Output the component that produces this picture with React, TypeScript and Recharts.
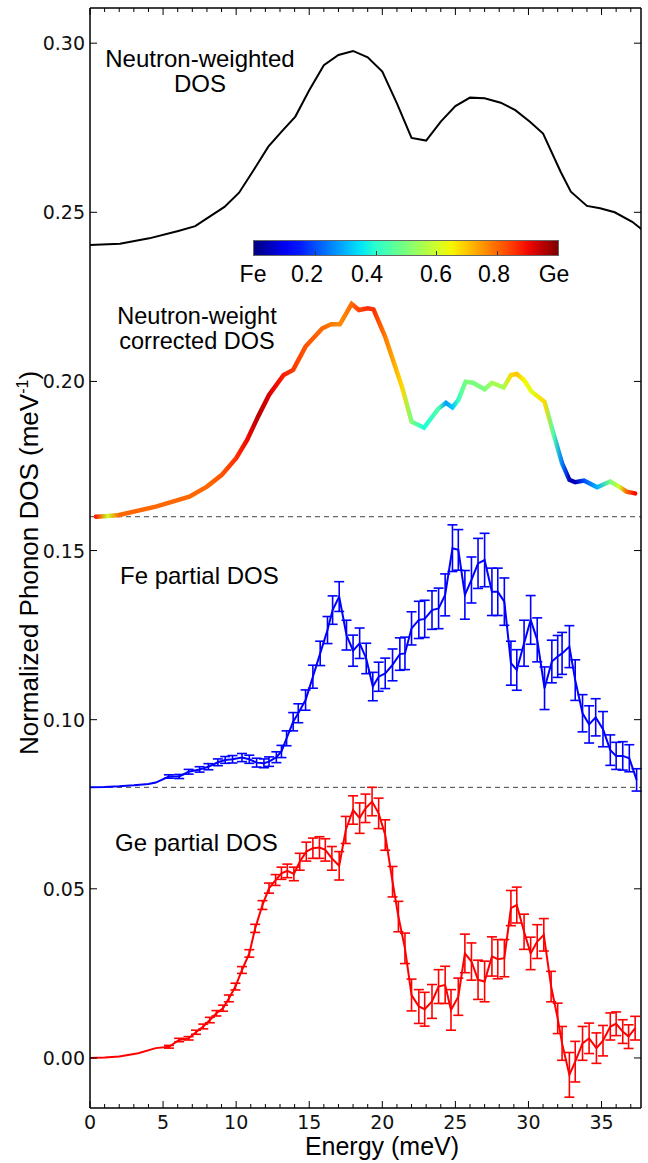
import React from "react";
import { LineChart, Line, XAxis, YAxis, ErrorBar, ReferenceLine } from "recharts";

// neutron-weighted DOS (black, top)
const nwEnergy = [0, 2.05, 4.05, 6.04, 7.2, 8.0, 9.2, 10.2, 11.2, 12.2, 13.2, 14.05, 15.0, 16.0, 17.0, 18.0, 19.0, 20.0, 21.0, 22.0, 23.0, 24.0, 25.0, 26.0, 27.0, 28.1, 29.1, 30.1, 31.0, 32.2, 32.9, 34.0, 34.9, 35.9, 37.1, 37.8];
const nwDos = [0.2403, 0.2407, 0.2423, 0.2445, 0.2459, 0.2482, 0.2516, 0.2558, 0.2625, 0.2694, 0.2743, 0.2783, 0.2861, 0.2935, 0.2965, 0.2977, 0.2958, 0.2916, 0.2822, 0.272, 0.2712, 0.2768, 0.2814, 0.2839, 0.2837, 0.2824, 0.2802, 0.2768, 0.2733, 0.262, 0.2561, 0.2519, 0.2512, 0.25, 0.2472, 0.2448];

// neutron-weight corrected DOS, coloured by Fe/Ge fraction
const corrEnergy = [0.4, 1.2, 2.0, 4.5, 6.8, 8.0, 9.0, 10.0, 10.75, 11.5, 12.25, 13.25, 13.9, 14.75, 15.9, 16.5, 17.1, 17.9, 18.4, 19.0, 19.4, 20.2, 21.35, 22.0, 22.85, 23.85, 24.35, 24.8, 25.2, 25.7, 26.2, 27.0, 27.5, 28.3, 28.8, 29.2, 29.7, 30.2, 31.1, 31.7, 32.3, 32.8, 33.2, 33.8, 34.7, 35.6, 36.2, 36.7, 37.3];
const corrDos = [0.16, 0.1602, 0.1605, 0.163, 0.1659, 0.1689, 0.1723, 0.1773, 0.1827, 0.1896, 0.196, 0.2019, 0.2034, 0.2103, 0.2157, 0.2169, 0.2169, 0.2229, 0.2211, 0.2216, 0.2213, 0.2132, 0.1984, 0.1881, 0.1863, 0.192, 0.1937, 0.1923, 0.1945, 0.1999, 0.1996, 0.1977, 0.1996, 0.1982, 0.2019, 0.2022, 0.2004, 0.197, 0.194, 0.1847, 0.1758, 0.1709, 0.1702, 0.1707, 0.1687, 0.1704, 0.1689, 0.1674, 0.1669];
const corrFrac = [0.88, 0.6, 0.8, 0.8, 0.8, 0.8, 0.82, 0.86, 0.9, 0.95, 0.92, 0.88, 0.85, 0.82, 0.8, 0.78, 0.76, 0.8, 0.84, 0.86, 0.86, 0.78, 0.68, 0.5, 0.38, 0.45, 0.28, 0.32, 0.42, 0.5, 0.5, 0.5, 0.55, 0.55, 0.68, 0.7, 0.65, 0.62, 0.68, 0.45, 0.25, 0.05, 0.05, 0.2, 0.3, 0.5, 0.6, 0.8, 0.9];

// Fe partial DOS (blue, offset 0.08)
const feEnergy = [0, 1, 2, 3, 4, 4.5, 5.4, 6.1, 6.75, 7.5, 8.1, 8.75, 9.25, 9.75, 10.4, 10.9, 11.4, 11.9, 12.25, 12.75, 13.1, 13.45, 13.9, 14.25, 14.75, 15.25, 15.75, 16.25, 16.6, 17.05, 17.55, 18.0, 18.45, 18.9, 19.35, 19.75, 20.2, 20.7, 21.2, 21.55, 22.0, 22.5, 22.9, 23.4, 23.85, 24.3, 24.8, 25.2, 25.65, 26.1, 26.55, 27.0, 27.5, 27.9, 28.35, 28.8, 29.2, 29.7, 30.15, 30.6, 31.1, 31.6, 32.0, 32.3, 32.8, 33.2, 33.7, 34.15, 34.6, 35.1, 35.6, 36.0, 36.45, 36.9, 37.4];
const feDos = [0.08, 0.0801, 0.0803, 0.0806, 0.081, 0.0814, 0.0832, 0.0832, 0.0846, 0.0853, 0.0861, 0.0874, 0.0881, 0.0883, 0.0888, 0.0883, 0.0873, 0.0871, 0.0876, 0.0889, 0.0906, 0.0945, 0.0994, 0.1019, 0.1058, 0.1127, 0.1196, 0.1265, 0.1324, 0.1364, 0.125, 0.1204, 0.1226, 0.1181, 0.1098, 0.1127, 0.1137, 0.1162, 0.1194, 0.1196, 0.127, 0.1295, 0.1298, 0.1324, 0.1329, 0.1369, 0.1507, 0.1502, 0.1369, 0.1413, 0.1462, 0.1472, 0.1378, 0.1378, 0.1349, 0.1167, 0.1147, 0.1226, 0.1295, 0.1236, 0.1093, 0.1172, 0.1187, 0.1196, 0.1216, 0.1117, 0.1019, 0.0986, 0.1007, 0.0972, 0.091, 0.0893, 0.0893, 0.0886, 0.0822];
const feErr = [0, 0, 0, 0, 0, 0, 0.0005, 0.0006, 0.0007, 0.0008, 0.0009, 0.001, 0.001, 0.0011, 0.0012, 0.0012, 0.0013, 0.0013, 0.0014, 0.0016, 0.0018, 0.0022, 0.0027, 0.0028, 0.003, 0.0034, 0.0036, 0.004, 0.0042, 0.0044, 0.0044, 0.0046, 0.0045, 0.0045, 0.0042, 0.0043, 0.0045, 0.0047, 0.0048, 0.0048, 0.0049, 0.0055, 0.0055, 0.0057, 0.006, 0.0062, 0.0069, 0.006, 0.0072, 0.0068, 0.0074, 0.0079, 0.007, 0.007, 0.007, 0.0065, 0.006, 0.0068, 0.0072, 0.0065, 0.0063, 0.0063, 0.0062, 0.0062, 0.0062, 0.006, 0.0055, 0.0055, 0.0055, 0.0052, 0.0045, 0.004, 0.0042, 0.004, 0.0033];

// Ge partial DOS (red)
const geEnergy = [0, 1, 2, 3.3, 4.5, 5.4, 6.1, 6.75, 7.25, 7.75, 8.2, 8.65, 9.1, 9.5, 9.95, 10.4, 10.9, 11.3, 11.8, 12.25, 12.7, 13.1, 13.5, 13.95, 14.35, 14.8, 15.25, 15.7, 16.1, 16.55, 17.05, 17.5, 18.0, 18.45, 18.85, 19.3, 19.75, 20.2, 20.7, 21.1, 21.55, 22.0, 22.5, 22.9, 23.4, 23.85, 24.3, 24.7, 25.2, 25.65, 26.1, 26.55, 27.0, 27.5, 27.9, 28.35, 28.8, 29.2, 29.7, 30.15, 30.6, 31.05, 31.55, 32.0, 32.3, 32.8, 33.2, 33.7, 34.15, 34.65, 35.1, 35.6, 36.0, 36.45, 36.85, 37.3];
const geDos = [0, 0.0001, 0.0004, 0.0014, 0.0029, 0.0033, 0.0053, 0.0058, 0.0076, 0.0093, 0.0112, 0.0132, 0.0147, 0.0176, 0.0211, 0.026, 0.0309, 0.0383, 0.0452, 0.0502, 0.0526, 0.0546, 0.0553, 0.0544, 0.058, 0.061, 0.062, 0.0622, 0.0615, 0.059, 0.0568, 0.0674, 0.0733, 0.0709, 0.0738, 0.0758, 0.0723, 0.0659, 0.0521, 0.0418, 0.0324, 0.0186, 0.0152, 0.0144, 0.0167, 0.0211, 0.0216, 0.0142, 0.0181, 0.0309, 0.0285, 0.0231, 0.0226, 0.03, 0.0292, 0.0295, 0.0443, 0.0452, 0.0373, 0.0309, 0.0344, 0.0364, 0.0211, 0.0117, 0.0043, -0.005, -0.0011, 0.0043, 0.0058, 0.0029, 0.0051, 0.0093, 0.0101, 0.0078, 0.0063, 0.0088];
const geErr = [0, 0, 0, 0, 0, 0.0004, 0.0005, 0.0005, 0.0006, 0.0007, 0.0008, 0.0008, 0.0009, 0.001, 0.001, 0.001, 0.0011, 0.0012, 0.0013, 0.0015, 0.0016, 0.0018, 0.002, 0.002, 0.0025, 0.0028, 0.003, 0.0032, 0.0033, 0.0035, 0.0042, 0.004, 0.0042, 0.0045, 0.0042, 0.0042, 0.0045, 0.0045, 0.0045, 0.0045, 0.0045, 0.0047, 0.005, 0.005, 0.005, 0.005, 0.0055, 0.006, 0.0055, 0.0057, 0.0055, 0.0058, 0.006, 0.0058, 0.0058, 0.0055, 0.0052, 0.0053, 0.0052, 0.0048, 0.005, 0.0048, 0.0045, 0.0045, 0.005, 0.0066, 0.006, 0.005, 0.0045, 0.0045, 0.0045, 0.004, 0.0035, 0.0035, 0.0035, 0.0035];

const energyTicks = Array.from({ length: 38 }, (_, i) => i);
const dosTicks = [0, 0.05, 0.1, 0.15, 0.2, 0.25, 0.3];
const offsetLines = [0.16, 0.08];
const colorbarLabels = ["Fe", "0.2", "0.4", "0.6", "0.8", "Ge"];
const colorbarLabelX = [253, 307, 367, 436, 494, 554];

const nwData = nwEnergy.map((e, i) => ({ e, dos: nwDos[i] }));
const corrData = corrEnergy.map((e, i) => ({ e, dos: corrDos[i] }));
const feData = feEnergy.map((e, i) => ({ e, dos: feDos[i], err: feErr[i] }));
const geData = geEnergy.map((e, i) => ({ e, dos: geDos[i], err: geErr[i] }));

// matplotlib "jet"
const JET_R = [[0, 0], [0.35, 0], [0.66, 1], [0.89, 1], [1, 0.5]];
const JET_G = [[0, 0], [0.125, 0], [0.375, 1], [0.64, 1], [0.91, 0], [1, 0]];
const JET_B = [[0, 0.5], [0.11, 1], [0.34, 1], [0.65, 0], [1, 0]];
function seg(pts: number[][], f: number) {
  for (let i = 1; i < pts.length; i++) {
    if (f <= pts[i][0]) {
      const [x0, y0] = pts[i - 1];
      const [x1, y1] = pts[i];
      return y0 + ((f - x0) / (x1 - x0)) * (y1 - y0);
    }
  }
  return pts[pts.length - 1][1];
}
function jet(f: number) {
  const c = (p: number[][]) => Math.round(seg(p, f) * 255);
  return `rgb(${c(JET_R)},${c(JET_G)},${c(JET_B)})`;
}

const W = 648;
const H = 1163;
const MARGIN = { top: 7, right: 6, bottom: 54, left: 89 };
const SANS = "'Liberation Sans', Arial, sans-serif";
const TICKFONT = "'DejaVu Sans', sans-serif";
const X_DOMAIN = [0, 37.7];
const Y_DOMAIN = [-0.0148, 0.3104];

const BottomTick = (p: any) => {
  const major = p.payload.value % 5 === 0;
  return (
    <g>
      <line x1={p.x} x2={p.x} y1={p.y} y2={p.y - (major ? 7 : 4)} stroke="#000" strokeWidth={1} />
      {major && (
        <text x={p.x} y={p.y + 21} textAnchor="middle" fontFamily={TICKFONT} fontSize={19} fill="#111">
          {p.payload.value}
        </text>
      )}
    </g>
  );
};
const TopTick = (p: any) => {
  const major = p.payload.value % 5 === 0;
  return <line x1={p.x} x2={p.x} y1={p.y} y2={p.y + (major ? 7 : 4)} stroke="#000" strokeWidth={1} />;
};
const LeftTick = (p: any) => (
  <g>
    <line x1={p.x} x2={p.x + 7} y1={p.y} y2={p.y} stroke="#000" strokeWidth={1} />
    <text x={p.x - 5} y={p.y + 7} textAnchor="end" fontFamily={TICKFONT} fontSize={19} fill="#111">
      {Number(p.payload.value).toFixed(2)}
    </text>
  </g>
);
const RightTick = (p: any) => <line x1={p.x} x2={p.x - 7} y1={p.y} y2={p.y} stroke="#000" strokeWidth={1} />;

const txt = (left: number, top: number, size: number, extra: React.CSSProperties = {}): React.CSSProperties => ({
  position: "absolute",
  left,
  top,
  fontFamily: SANS,
  fontSize: size,
  lineHeight: "25px",
  color: "#000",
  whiteSpace: "nowrap",
  ...extra,
});

const axisCommon = {
  type: "number" as const,
  allowDataOverflow: true,
  tickSize: 0,
  tickMargin: 0,
  tickLine: false,
  interval: 0 as const,
  axisLine: { stroke: "#000", strokeWidth: 1.5 },
};

export default function App() {
  const e0 = corrEnergy[0];
  const e1 = corrEnergy[corrEnergy.length - 1];
  return (
    <div style={{ position: "absolute", left: 0, top: 0, width: W, height: H, background: "#fff" }}>
      <LineChart width={W} height={H} margin={MARGIN}>
        <defs>
          <linearGradient id="fracGrad" x1="0" y1="0" x2="1" y2="0">
            {corrEnergy.map((e, i) => (
              <stop key={i} offset={(e - e0) / (e1 - e0)} stopColor={jet(corrFrac[i])} />
            ))}
          </linearGradient>
        </defs>
        <XAxis {...axisCommon} dataKey="e" domain={X_DOMAIN} ticks={energyTicks} height={1} tick={<BottomTick />} />
        <XAxis
          {...axisCommon}
          xAxisId="top"
          orientation="top"
          dataKey="e"
          domain={X_DOMAIN}
          ticks={energyTicks}
          height={1}
          tick={<TopTick />}
        />
        <YAxis {...axisCommon} domain={Y_DOMAIN} ticks={dosTicks} width={1} tick={<LeftTick />} />
        <YAxis
          {...axisCommon}
          yAxisId="right"
          orientation="right"
          domain={Y_DOMAIN}
          ticks={dosTicks}
          width={1}
          tick={<RightTick />}
        />
        {offsetLines.map((v) => (
          <ReferenceLine key={v} y={v} stroke="#444" strokeWidth={1} strokeDasharray="5 4" />
        ))}
        <Line data={nwData} dataKey="dos" type="linear" stroke="#000" strokeWidth={2} dot={false} isAnimationActive={false} />
        <Line
          data={corrData}
          dataKey="dos"
          type="linear"
          stroke="url(#fracGrad)"
          strokeWidth={4.5}
          strokeLinecap="round"
          dot={false}
          isAnimationActive={false}
        />
        <Line data={feData} dataKey="dos" type="linear" stroke="#0000ff" strokeWidth={2} dot={false} isAnimationActive={false}>
          <ErrorBar dataKey="err" direction="y" width={5} stroke="#0000ff" strokeWidth={1.6} isAnimationActive={false} />
        </Line>
        <Line data={geData} dataKey="dos" type="linear" stroke="#ff0000" strokeWidth={2} dot={false} isAnimationActive={false}>
          <ErrorBar dataKey="err" direction="y" width={5} stroke="#ff0000" strokeWidth={1.6} isAnimationActive={false} />
        </Line>
      </LineChart>

      {/* colour bar */}
      <div
        style={{
          position: "absolute",
          left: 253,
          top: 240,
          width: 304,
          height: 14,
          border: "1px solid #666",
          background: `linear-gradient(to right, ${Array.from({ length: 21 }, (_, i) => jet(i / 20)).join(", ")})`,
        }}
      >
        {[0.2, 0.4, 0.6, 0.8].map((f) => (
          <div key={f} style={{ position: "absolute", left: f * 304, bottom: 0, width: 1, height: 4, background: "#333" }} />
        ))}
      </div>
      {colorbarLabels.map((l, i) => (
        <div key={l} style={txt(colorbarLabelX[i], 262, 23, { transform: "translateX(-50%)" })}>
          {l}
        </div>
      ))}

      <div style={txt(200, 46, 24, { transform: "translateX(-50%)", textAlign: "center" })}>
        Neutron-weighted
        <br />
        DOS
      </div>
      <div style={txt(197, 304, 23.5, { transform: "translateX(-50%)", textAlign: "center", lineHeight: "25px" })}>
        Neutron-weight
        <br />
        corrected DOS
      </div>
      <div style={txt(120, 563, 24)}>Fe partial DOS</div>
      <div style={txt(115, 830, 24)}>Ge partial DOS</div>
      <div style={txt(382, 1134, 25, { transform: "translateX(-50%)" })}>Energy (meV)</div>
      <div
        style={txt(26, 563, 26, {
          transform: "translate(-50%, -50%) rotate(-90deg)",
          lineHeight: "30px",
        })}
      >
        Normalized Phonon DOS (meV<sup style={{ fontSize: 16 }}>-1</sup>)
      </div>
    </div>
  );
}
